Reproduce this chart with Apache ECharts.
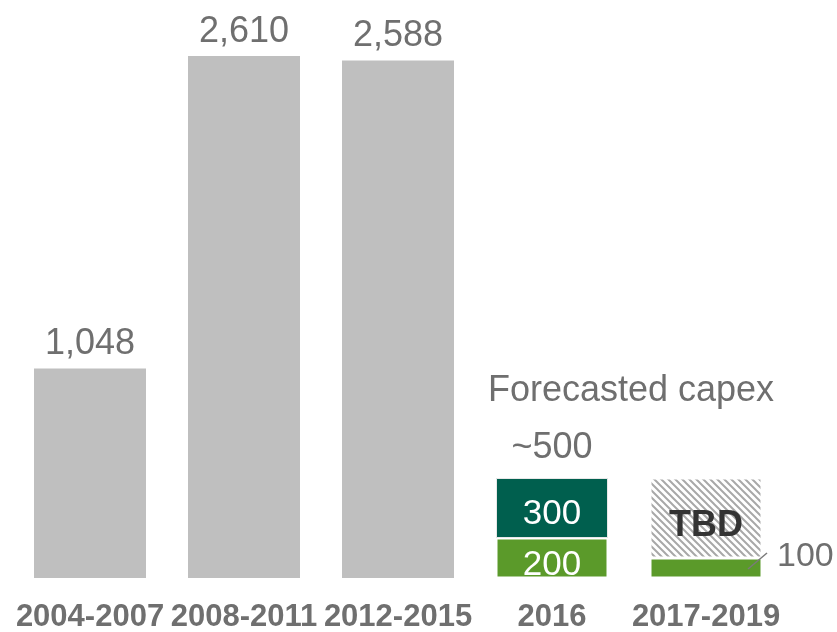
<!DOCTYPE html>
<html lang="en">
<head>
  <meta charset="UTF-8">
  <title>Capex by period</title>
  <script src="https://cdn.jsdelivr.net/npm/echarts@6/dist/echarts.min.js"></script>
  <style>
    html, body { margin: 0; padding: 0; background: #fff; }
    #chart { width: 837px; height: 632px; }
  </style>
</head>
<body>
  <div id="chart"></div>
  <script>
    // data
    const periods = ['2004-2007', '2008-2011', '2012-2015', '2016', '2017-2019'];
    const historical = [1048, 2610, 2588, '-', '-'];
    const committed = ['-', '-', '-', 200, 100];
    const planned = ['-', '-', '-', 300, '-'];
    const tbd = ['-', '-', '-', '-', 400];
    const forecastTop = ['-', '-', '-', 0, '-'];
    const forecastTopLabel = '~500';

    const FONT = '"Liberation Sans", Arial, sans-serif';
    const GREY_TEXT = '#6f6f6f';

    // diagonal hatch pattern for the TBD bar
    function hatch() {
      const c = document.createElement('canvas');
      c.width = 7; c.height = 7;
      const g = c.getContext('2d');
      g.fillStyle = '#fff';
      g.fillRect(0, 0, 7, 7);
      g.strokeStyle = '#a8a8a8';
      g.lineWidth = 2;
      g.beginPath();
      g.moveTo(-2, -2); g.lineTo(9, 9);
      g.moveTo(-2, 5); g.lineTo(2, 9);
      g.moveTo(5, -2); g.lineTo(9, 2);
      g.stroke();
      return c;
    }

    const chart = echarts.init(document.getElementById('chart'));
    chart.setOption({
      animation: false,
      grid: { left: 13, right: 54, top: 18, bottom: 54, outerBoundsMode: 'none', containLabel: false },
      xAxis: {
        type: 'category',
        data: periods,
        axisLine: { show: false },
        axisTick: { show: false },
        axisLabel: {
          interval: 0,
          margin: 24,
          fontFamily: FONT,
          fontSize: 31,
          fontWeight: 'bold',
          color: GREY_TEXT
        }
      },
      yAxis: { type: 'value', min: 0, max: 2800, show: false, splitLine: { show: false } },
      series: [
        {
          name: 'Historical',
          type: 'bar',
          stack: 'all',
          barWidth: 112,
          data: historical,
          itemStyle: { color: '#bfbfbf' },
          label: {
            show: true,
            position: 'top',
            distance: 6,
            fontFamily: FONT,
            fontSize: 36,
            color: GREY_TEXT,
            formatter: p => p.value.toLocaleString('en-US')
          }
        },
        {
          name: 'Committed',
          type: 'bar',
          stack: 'all',
          data: committed,
          itemStyle: { color: '#5b9a2a', borderColor: '#ffffff', borderWidth: 1.5 },
          label: {
            show: true,
            position: 'inside',
            offset: [0, 7],
            fontFamily: FONT,
            fontSize: 35,
            color: '#ffffff',
            formatter: p => p.dataIndex === 4 ? '' : String(p.value)
          }
        },
        {
          name: 'Planned',
          type: 'bar',
          stack: 'all',
          data: planned,
          itemStyle: { color: '#005f4e', borderColor: '#e8e8e8', borderWidth: 1 },
          label: {
            show: true,
            position: 'inside',
            offset: [0, 6],
            fontFamily: FONT,
            fontSize: 35,
            color: '#ffffff'
          }
        },
        {
          name: 'TBD',
          type: 'bar',
          stack: 'all',
          data: tbd,
          itemStyle: { color: { image: hatch(), repeat: 'repeat' }, borderColor: '#ffffff', borderWidth: 1.5 },
          label: {
            show: true,
            position: 'inside',
            offset: [0, 8],
            fontFamily: FONT,
            fontSize: 36,
            fontWeight: 'bold',
            color: '#333333',
            formatter: 'TBD'
          }
        },
        {
          name: 'Forecast total',
          type: 'bar',
          stack: 'all',
          data: forecastTop,
          itemStyle: { color: 'transparent' },
          label: {
            show: true,
            position: 'top',
            distance: 12,
            fontFamily: FONT,
            fontSize: 36,
            color: GREY_TEXT,
            formatter: forecastTopLabel
          }
        }
      ]
    });

    // annotations placed from the axes' own scales
    const lastCat = periods[4];
    const barRight = chart.convertToPixel({ xAxisIndex: 0 }, lastCat) + 56;
    const midY = chart.convertToPixel({ yAxisIndex: 0 }, committed[4] / 2);
    const capexX = (chart.convertToPixel({ xAxisIndex: 0 }, periods[3]) +
                    chart.convertToPixel({ xAxisIndex: 0 }, periods[4])) / 2;
    const capexY = chart.convertToPixel({ yAxisIndex: 0 }, 935);

    chart.setOption({
      graphic: [
        {
          type: 'text',
          z: 100,
          x: capexX + 2,
          y: capexY,
          style: {
            text: 'Forecasted capex',
            font: '36px ' + FONT,
            fill: GREY_TEXT,
            align: 'center',
            verticalAlign: 'middle'
          }
        },
        {
          type: 'line',
          z: 100,
          shape: { x1: barRight - 14, y1: midY + 1, x2: barRight + 5, y2: midY - 15 },
          style: { stroke: '#7a7a7a', lineWidth: 1.5 }
        },
        {
          type: 'text',
          z: 100,
          x: barRight + 15,
          y: midY - 11,
          style: {
            text: String(committed[4]),
            font: '34px ' + FONT,
            fill: GREY_TEXT,
            align: 'left',
            verticalAlign: 'middle'
          }
        }
      ]
    });
  </script>
</body>
</html>
